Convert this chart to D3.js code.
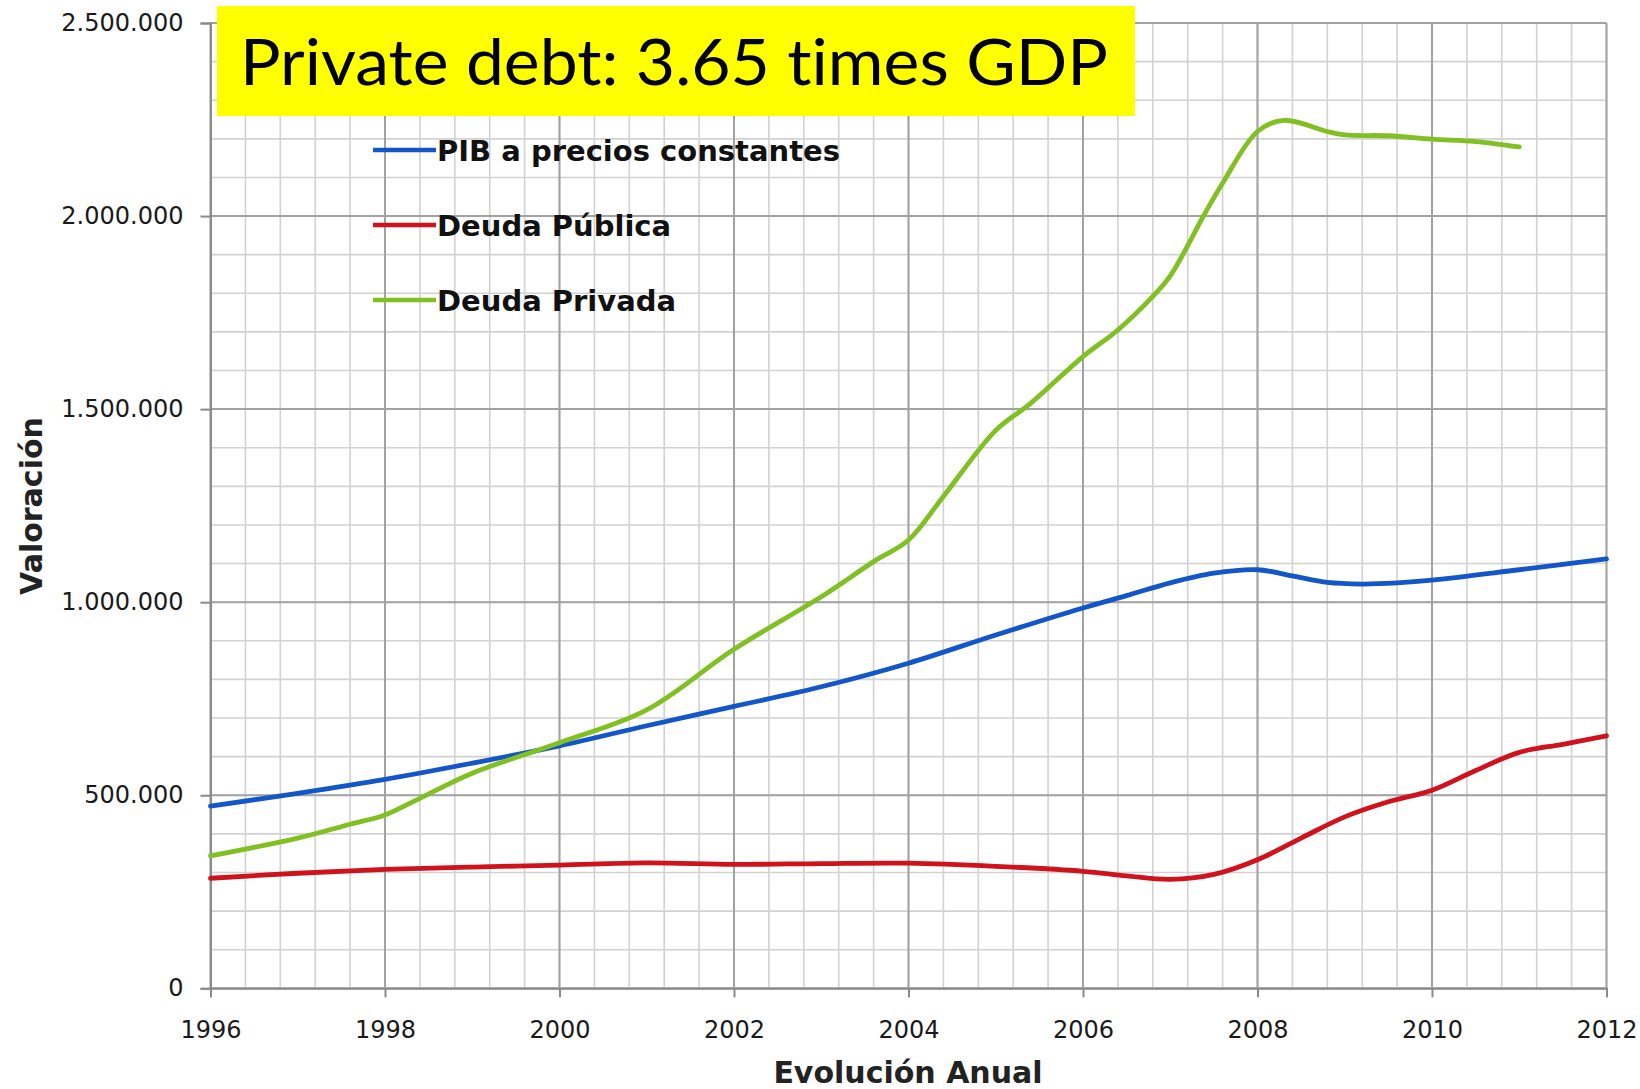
<!DOCTYPE html>
<html>
<head>
<meta charset="utf-8">
<script src="https://cdn.jsdelivr.net/npm/d3@7"></script>
<style>
  body { margin: 0; background: #fff; }
  svg { display: block; }
</style>
</head>
<body>
<div id="chart"></div>
<script>
// values in thousands
const pibYears   = [1996, 1997, 1998, 1999, 2000, 2001, 2002, 2003, 2004, 2005, 2006, 2006.5, 2007, 2007.5, 2008, 2008.4, 2008.8, 2009.2, 2009.6, 2010, 2011, 2012]
const pibValues  = [472, 505, 541, 583, 628, 680, 730, 781, 842, 915, 985, 1017, 1050, 1075, 1084, 1068, 1051, 1047, 1050, 1057, 1084, 1112]

const publicYears  = [1996, 1997, 1998, 1999, 2000, 2001, 2002, 2003, 2004, 2005, 2006, 2006.5, 2007, 2007.5, 2008, 2008.5, 2009, 2009.5, 2010, 2010.5, 2011, 2011.5, 2012]
const publicValues = [285, 298, 308, 314, 319, 325, 321, 323, 324, 316, 303, 291, 282, 295, 333, 389, 444, 483, 513, 564, 611, 632, 654]

const privateYears  = [1996, 1997, 1997.6, 1998, 1998.4, 1999, 2000, 2001, 2002, 2003, 2003.6, 2004, 2004.4, 2005, 2005.4, 2006, 2006.4, 2006.8, 2007, 2007.4, 2007.6, 2008, 2008.3, 2008.8, 2009, 2009.5, 2010, 2010.5, 2011]
const privateValues = [343, 389, 425, 449, 492, 557, 636, 721, 878, 1014, 1105, 1161, 1274, 1445, 1515, 1636, 1705, 1792, 1845, 2008, 2085, 2219, 2248, 2219, 2210, 2208, 2199, 2193, 2179]

const seriesNames  = ["PIB a precios constantes", "Deuda Pública", "Deuda Privada"]
const seriesColors = ["#1256c9", "#d0121c", "#80c022"]

const xTicks = [1996, 1998, 2000, 2002, 2004, 2006, 2008, 2010, 2012]
const yTicks = [0, 500, 1000, 1500, 2000, 2500]

const W = 1640, H = 1089
const margin = { left: 210.5, right: W - 1606.5, top: 23, bottom: H - 988.3 }

const svg = d3.select("#chart").append("svg")
    .attr("width", W)
    .attr("height", H)

const x = d3.scaleLinear().domain([1996, 2012]).range([margin.left, W - margin.right])
const y = d3.scaleLinear().domain([0, 2500]).range([H - margin.bottom, margin.top])

const es = d3.formatLocale({ decimal: ",", thousands: ".", grouping: [3], currency: ["", ""] })
const fmt = es.format(",")

// grid
const grid = svg.append("g")
grid.selectAll(".vminor")
    .data(d3.range(0, 41).map(i => 1996 + i * 0.4))
    .join("line")
    .attr("x1", d => x(d)).attr("x2", d => x(d))
    .attr("y1", y(0)).attr("y2", y(2500))
    .attr("stroke", "#d2d2d2").attr("stroke-width", 1.6)
grid.selectAll(".hminor")
    .data(d3.range(0, 26).map(i => i * 100))
    .join("line")
    .attr("x1", x(1996)).attr("x2", x(2012))
    .attr("y1", d => y(d)).attr("y2", d => y(d))
    .attr("stroke", "#d2d2d2").attr("stroke-width", 1.6)
grid.selectAll(".vmajor")
    .data(xTicks)
    .join("line")
    .attr("x1", d => x(d)).attr("x2", d => x(d))
    .attr("y1", y(0)).attr("y2", y(2500))
    .attr("stroke", "#a2a2a2").attr("stroke-width", 2)
grid.selectAll(".hmajor")
    .data(yTicks)
    .join("line")
    .attr("x1", x(1996)).attr("x2", x(2012))
    .attr("y1", d => y(d)).attr("y2", d => y(d))
    .attr("stroke", "#a2a2a2").attr("stroke-width", 2)

// axes
const yAxis = svg.append("g")
    .attr("transform", `translate(${x(1996)},0)`)
    .call(d3.axisLeft(y).tickValues(yTicks).tickSize(10).tickPadding(17).tickFormat(d => fmt(d * 1000)))
yAxis.select(".domain").attr("stroke", "#8a8a8a").attr("stroke-width", 2)
yAxis.selectAll(".tick line").attr("stroke", "#8a8a8a").attr("stroke-width", 2)
yAxis.selectAll("text")
    .attr("font-family", "DejaVu Sans").attr("font-size", 24).attr("fill", "#1a1a1a")

const xAxis = svg.append("g")
    .attr("transform", `translate(0,${y(0)})`)
    .call(d3.axisBottom(x).tickValues(xTicks).tickSize(9).tickPadding(24).tickFormat(d3.format("d")))
xAxis.select(".domain").attr("stroke", "#8a8a8a").attr("stroke-width", 2)
xAxis.selectAll(".tick line").attr("stroke", "#8a8a8a").attr("stroke-width", 2)
xAxis.selectAll("text")
    .attr("font-family", "DejaVu Sans").attr("font-size", 24).attr("fill", "#1a1a1a")

// lines
const line = d3.line()
    .x(d => x(d[0]))
    .y(d => y(d[1]))
    .curve(d3.curveCatmullRom.alpha(0.5))

const series = [
    d3.zip(pibYears, pibValues),
    d3.zip(publicYears, publicValues),
    d3.zip(privateYears, privateValues)
]

svg.append("g").selectAll("path")
    .data(series)
    .join("path")
    .attr("d", line)
    .attr("fill", "none")
    .attr("stroke", (d, i) => seriesColors[i])
    .attr("stroke-width", 4.8)
    .attr("stroke-linecap", "round")
    .attr("stroke-linejoin", "round")

// legend
const legend = svg.append("g").selectAll("g")
    .data(seriesNames)
    .join("g")
    .attr("transform", (d, i) => `translate(373,${150 + i * 75})`)
legend.append("line")
    .attr("x1", 0).attr("x2", 63)
    .attr("stroke", (d, i) => seriesColors[i])
    .attr("stroke-width", 4.5)
legend.append("text")
    .attr("x", 64).attr("y", 11)
    .attr("font-family", "DejaVu Sans").attr("font-weight", "bold")
    .attr("font-size", 29).attr("fill", "#111")
    .text(d => d)

// axis titles
svg.append("text")
    .attr("x", 908).attr("y", 1083)
    .attr("text-anchor", "middle")
    .attr("font-family", "DejaVu Sans").attr("font-weight", "bold")
    .attr("font-size", 30).attr("fill", "#222")
    .text("Evolución Anual")

svg.append("text")
    .attr("transform", "translate(42,506) rotate(-90)")
    .attr("text-anchor", "middle")
    .attr("font-family", "DejaVu Sans").attr("font-weight", "bold")
    .attr("font-size", 30).attr("fill", "#222")
    .text("Valoración")

// title box
svg.append("rect")
    .attr("x", 217).attr("y", 6)
    .attr("width", 918).attr("height", 110)
    .attr("fill", "#ffff00")
svg.append("text")
    .attr("x", 240).attr("y", 85)
    .attr("font-family", "Lato").attr("font-size", 63).attr("fill", "#000")
    .style("font-variant-ligatures", "none")
    .attr("textLength", 868).attr("lengthAdjust", "spacingAndGlyphs")
    .text("Private debt: 3.65 times GDP")
</script>
</body>
</html>
